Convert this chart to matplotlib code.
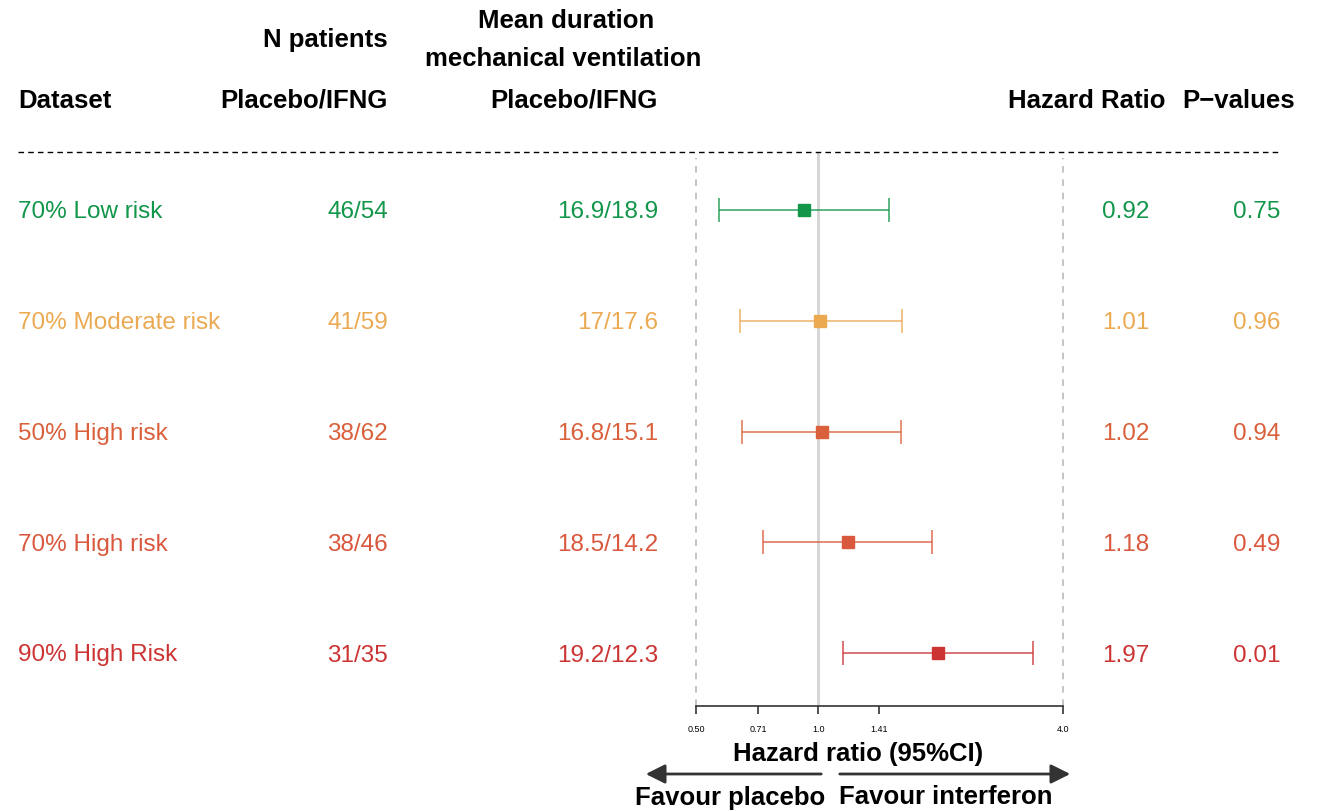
import matplotlib
matplotlib.use("Agg")
import matplotlib.pyplot as plt
import matplotlib.transforms as mtransforms

plt.rcParams['font.family'] = ['Liberation Sans', 'DejaVu Sans']

datasets = ["70% Low risk", "70% Moderate risk", "50% High risk", "70% High risk", "90% High Risk"]
n_patients = ["46/54", "41/59", "38/62", "38/46", "31/35"]
mean_duration = ["16.9/18.9", "17/17.6", "16.8/15.1", "18.5/14.2", "19.2/12.3"]
hr = [0.92, 1.01, 1.02, 1.18, 1.97]
ci_low = [0.57, 0.64, 0.65, 0.73, 1.15]
ci_high = [1.49, 1.61, 1.60, 1.90, 3.38]
hr_labels = ["0.92", "1.01", "1.02", "1.18", "1.97"]
p_labels = ["0.75", "0.96", "0.94", "0.49", "0.01"]
colors = ["#12964a", "#ebaa52", "#d9603a", "#d9583e", "#cc3434"]
xticks = [0.5, 0.71, 1.0, 1.41, 4.0]
xtick_labels = ["0.50", "0.71", "1.0", "1.41", "4.0"]

W, H = 1324, 811
fig = plt.figure(figsize=(W / 100, H / 100), dpi=100)

def fx(px):
    return px / W

def fy(py):
    return 1 - py / H

top_px, bot_px = 152, 706
ax = fig.add_axes([fx(696), fy(bot_px), fx(1063) - fx(696), (bot_px - top_px) / H])
ax.set_xscale('log', base=2)
ax.set_xlim(0.5, 4.0)
n = len(datasets)
ax.set_ylim(4 + 53 / 110.75, -58 / 110.75)

for i in range(n):
    ax.errorbar(hr[i], i, xerr=[[hr[i] - ci_low[i]], [ci_high[i] - hr[i]]],
                fmt='none', ecolor=colors[i], alpha=0.75, elinewidth=1.3,
                capsize=8.5, capthick=1.3, zorder=3)
    ax.plot(hr[i], i, marker='s', markersize=9, color=colors[i],
            linestyle='none', zorder=4)

ax.axvline(1.0, color='#d4d4d4', lw=2, zorder=1)
ax.axvline(0.5, color='#bbbbbb', lw=1.2, ls=(0, (4, 4)), zorder=1, ymax=0.99, clip_on=False)
ax.axvline(4.0, color='#bbbbbb', lw=1.2, ls=(0, (4, 4)), zorder=1, ymax=0.99, clip_on=False)

for s in ['top', 'right', 'left']:
    ax.spines[s].set_visible(False)
ax.spines['bottom'].set_linewidth(1.2)
ax.spines['bottom'].set_color('#333333')
ax.set_yticks([])
ax.set_xticks(xticks)
ax.set_xticklabels(xtick_labels, fontsize=6.5)
ax.minorticks_off()
ax.tick_params(axis='x', direction='out', length=6, width=1.2, color='#333333', pad=8)
ax.patch.set_alpha(0)

trans = mtransforms.blended_transform_factory(fig.transFigure, ax.transData)
fs = 17.5
for i in range(n):
    c = colors[i]
    kw = dict(transform=trans, va='center_baseline', fontsize=fs, color=c)
    ax.text(fx(18), i, datasets[i], ha='left', **kw)
    ax.text(fx(388), i, n_patients[i], ha='right', **kw)
    ax.text(fx(658), i, mean_duration[i], ha='right', **kw)
    ax.text(fx(1149), i, hr_labels[i], ha='right', **kw)
    ax.text(fx(1280), i, p_labels[i], ha='right', **kw)

# headers
hkw = dict(fontsize=18.5, fontweight='bold', va='center_baseline', color='black')
fig.text(fx(18), fy(98), "Dataset", ha='left', **hkw)
fig.text(fx(388), fy(38), "N patients", ha='right', **hkw)
fig.text(fx(388), fy(98), "Placebo/IFNG", ha='right', **hkw)
fig.text(fx(566), fy(18), "Mean duration", ha='center', **hkw)
fig.text(fx(563), fy(57), "mechanical ventilation", ha='center', **hkw)
fig.text(fx(658), fy(98), "Placebo/IFNG", ha='right', **hkw)
fig.text(fx(1166), fy(98), "Hazard Ratio", ha='right', **hkw)
fig.text(fx(1295), fy(98), "P\u2212values", ha='right', **hkw)

fig.add_artist(plt.Line2D([fx(18), fx(1280)], [fy(152), fy(152)], color='black',
                          lw=1, ls=(0, (4, 3))))

fig.text(fx(858), fy(751), "Hazard ratio (95%CI)", ha='center', va='center_baseline',
         fontsize=18.5, fontweight='bold')

akw = dict(arrowstyle='-|>,head_length=0.9,head_width=0.45', color='#333333', lw=2)
fig.add_artist(matplotlib.patches.FancyArrowPatch((fx(824), fy(774)), (fx(643), fy(774)),
               transform=fig.transFigure, mutation_scale=13, **akw))
fig.add_artist(matplotlib.patches.FancyArrowPatch((fx(837), fy(774)), (fx(1073), fy(774)),
               transform=fig.transFigure, mutation_scale=13, **akw))
fig.text(fx(730), fy(795), "Favour placebo", ha='center', va='center_baseline', fontsize=18.5, fontweight='bold')
fig.text(fx(946), fy(795), "Favour interferon", ha='center', va='center_baseline', fontsize=18.5, fontweight='bold')

fig.savefig("out.png", dpi=100)
